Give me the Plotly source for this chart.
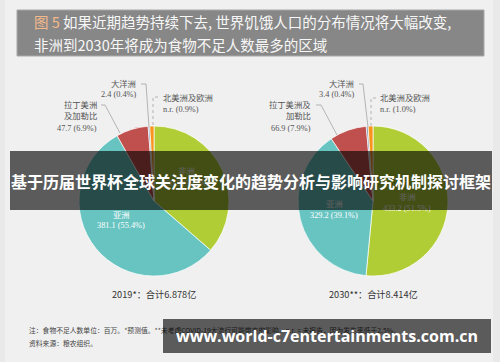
import plotly.graph_objects as go

W, H = 500, 362

# ---------------- data ----------------
regions = ["非洲", "亚洲", "拉丁美洲及加勒比", "大洋洲", "北美洲及欧洲"]
values_2019 = [250.3, 381.1, 47.7, 2.4, 6.2]
shown_2019 = ["250.3", "381.1", "47.7", "2.4", "n.r."]
pct_2019 = ["36.4%", "55.4%", "6.9%", "0.4%", "0.9%"]
values_2030 = [433.2, 329.2, 66.9, 3.4, 8.7]
shown_2030 = ["433.2", "329.2", "66.9", "3.4", "n.r."]
pct_2030 = ["51.5%", "39.1%", "7.9%", "0.4%", "1.0%"]
colors = ["#b1cd35", "#68c4c1", "#c0504d", "#7f97b2", "#f7941d"]
captions = ["2019*：合计6.878亿", "2030**：合计8.414亿"]
title_lines = ["如果近期趋势持续下去, 世界饥饿人口的分布情况将大幅改变,",
               "非洲到2030年将成为食物不足人数最多的区域"]
notes = ["注：食物不足人数单位：百万。*预测值。**未考虑COVID-19大流行可能带来的影响。n.r. = 未报告，因为发生率低于2.5%。",
         "资料来源：粮农组织。"]
banner_text = "基于历届世界杯全球关注度变化的趋势分析与影响研究机制探讨框架"
url_text = "www.world-c7entertainments.com.cn"


def px(x):
    return x / W


def py(y):
    return 1 - y / H


def lab(v, p):
    return f"{v} ({p})"


CJK = "Noto Sans CJK SC"
LBL = "Liberation Serif, Noto Sans CJK SC"

fig = go.Figure()
for (vals, cx) in [(values_2019, 154), (values_2030, 373)]:
    fig.add_trace(go.Pie(
        labels=regions, values=vals, sort=False, direction="clockwise",
        rotation=0, textinfo="none", hoverinfo="skip", showlegend=False,
        marker=dict(colors=colors, line=dict(color="white", width=0.7)),
        domain=dict(x=[px(cx - 75), px(cx + 75)], y=[py(276), py(126)]),
    ))

ann = []


def A(x, y, text, size=8.3, color="#555", xanchor="left", family=LBL, **kw):
    ann.append(dict(x=px(x), y=py(y), xref="paper", yref="paper", text=text,
                    showarrow=False, xanchor=xanchor, yanchor="middle",
                    font=dict(size=size, color=color, family=family), **kw))


# title
A(32, 22, '<span style="color:#f3b98a">图 5</span> ' + title_lines[0], size=14.5,
  color="#f7f7f7", family=CJK)
A(32, 44, title_lines[1], size=14.5, color="#f7f7f7", family=CJK)

# ---- left pie outer labels ----
A(138, 84, regions[3], xanchor="right")
A(138, 94, lab(shown_2019[3], pct_2019[3]), xanchor="right")
A(99, 105, regions[2][:4], xanchor="right")
A(99, 116, regions[2][4:], xanchor="right")
A(99, 128, lab(shown_2019[2], pct_2019[2]), xanchor="right")
A(161, 98, regions[4])
A(161, 109, lab(shown_2019[4], pct_2019[4]))
# left pie inner labels
A(121, 215, regions[1], color="#ffffff", xanchor="center")
A(121, 226, lab(shown_2019[1], pct_2019[1]), color="#ffffff", xanchor="center")
A(186, 171, regions[0], color="#ffffff", xanchor="center")
A(186, 183, lab(shown_2019[0], pct_2019[0]), color="#ffffff", xanchor="center")

# ---- right pie outer labels ----
A(356, 84, regions[3], xanchor="right")
A(356, 94, lab(shown_2030[3], pct_2030[3]), xanchor="right")
A(313, 105, regions[2][:5], xanchor="right")
A(313, 116, regions[2][5:], xanchor="right")
A(313, 128, lab(shown_2030[2], pct_2030[2]), xanchor="right")
A(378, 98, regions[4])
A(378, 109, lab(shown_2030[4], pct_2030[4]))
# right pie inner labels
A(334, 204, regions[1], color="#ffffff", xanchor="center")
A(334, 215, lab(shown_2030[1], pct_2030[1]), color="#ffffff", xanchor="center")
A(407, 197, regions[0], color="#ffffff", xanchor="center")
A(407, 208, lab(shown_2030[0], pct_2030[0]), color="#ffffff", xanchor="center")

# captions
A(154, 294, captions[0], size=9.2, color="#333", xanchor="center", family=CJK)
A(373, 294, captions[1], size=9.2, color="#333", xanchor="center", family=CJK)

# notes
A(27, 330, notes[0], size=6.8, color="#444", family="Noto Sans CJK SC")
A(27, 343, notes[1], size=6.8, color="#444", family="Noto Sans CJK SC")

# overlay banners (drawn last, semi-transparent boxes)
ann.append(dict(x=px(251), y=py(180.5), xref="paper", yref="paper",
                text="<b>" + banner_text + "</b>", showarrow=False,
                xanchor="center", yanchor="middle", width=482, height=59,
                bgcolor="rgba(0,0,0,0.62)", borderpad=0, borderwidth=0,
                font=dict(size=16, color="#ffffff", family=CJK)))
ann.append(dict(x=px(327), y=py(336), xref="paper", yref="paper",
                text="<b>" + url_text + "</b>", showarrow=False,
                xanchor="center", yanchor="middle", width=328, height=34,
                bgcolor="rgba(0,0,0,0.62)", borderpad=0, borderwidth=0,
                font=dict(size=16, color="#ffffff", family="Open Sans")))

shapes = [
    dict(type="rect", xref="paper", yref="paper", x0=px(5), x1=px(493), y0=0, y1=1,
         fillcolor="#f0f0f0", line=dict(width=0), layer="below"),
    dict(type="rect", xref="paper", yref="paper", x0=px(17), x1=px(484), y0=py(56), y1=py(10),
         fillcolor="#878787", line=dict(color="#a8a8a8", width=1), layer="below"),
]


def path(pts, dash="solid"):
    d = "M " + " L ".join(f"{px(x)} {py(y)}" for x, y in pts)
    shapes.append(dict(type="path", xref="paper", yref="paper", path=d,
                       line=dict(color="#9a9a9a", width=0.7, dash=dash), layer="above"))


# leader lines left
path([(141, 84), (146, 84), (149, 127)])
path([(101, 105), (105, 105), (120, 133)])
path([(158, 97), (153, 97), (153, 126)], dash="dot")
# leader lines right
path([(359, 84), (363, 84), (368, 127)])
path([(316, 105), (321, 105), (337, 135)])
path([(376, 98), (371, 98), (371, 126)], dash="dot")

fig.update_layout(width=W, height=H, margin=dict(l=0, r=0, t=0, b=0),
                  paper_bgcolor="#e9e9e9", plot_bgcolor="rgba(0,0,0,0)",
                  annotations=ann, shapes=shapes, showlegend=False)
fig.write_html("out.html")
